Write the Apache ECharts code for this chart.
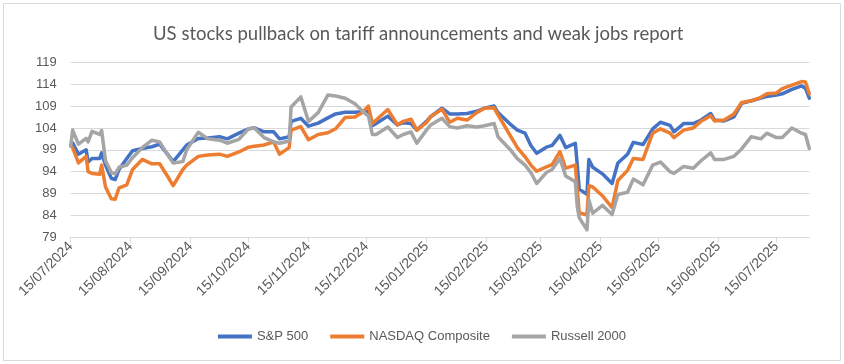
<!DOCTYPE html>
<html><head><meta charset="utf-8">
<script src="https://cdn.jsdelivr.net/npm/echarts@6/dist/echarts.min.js"></script>
<style>html,body{margin:0;padding:0;background:#fff}#c{width:844px;height:364px}</style>
</head><body><div id="c"></div><script>
const dates = ['2024-07-15','2024-07-16','2024-07-19','2024-07-23','2024-07-24','2024-07-26','2024-07-30','2024-07-31','2024-08-02','2024-08-05','2024-08-07','2024-08-09','2024-08-13','2024-08-16','2024-08-21','2024-08-26','2024-08-30','2024-09-03','2024-09-06','2024-09-11','2024-09-13','2024-09-19','2024-09-24','2024-09-30','2024-10-04','2024-10-10','2024-10-15','2024-10-18','2024-10-23','2024-10-28','2024-10-31','2024-11-05','2024-11-06','2024-11-11','2024-11-15','2024-11-20','2024-11-25','2024-11-29','2024-12-04','2024-12-09','2024-12-13','2024-12-16','2024-12-18','2024-12-20','2024-12-26','2024-12-31','2025-01-03','2025-01-07','2025-01-10','2025-01-15','2025-01-17','2025-01-23','2025-01-27','2025-01-31','2025-02-05','2025-02-10','2025-02-14','2025-02-19','2025-02-21','2025-02-27','2025-03-03','2025-03-07','2025-03-10','2025-03-13','2025-03-18','2025-03-21','2025-03-25','2025-03-28','2025-04-02','2025-04-03','2025-04-04','2025-04-08','2025-04-09','2025-04-11','2025-04-16','2025-04-21','2025-04-24','2025-04-29','2025-05-02','2025-05-07','2025-05-12','2025-05-16','2025-05-21','2025-05-23','2025-05-28','2025-06-02','2025-06-06','2025-06-11','2025-06-13','2025-06-18','2025-06-23','2025-06-27','2025-07-02','2025-07-07','2025-07-10','2025-07-15','2025-07-18','2025-07-23','2025-07-28','2025-07-30','2025-08-01'];
const sp500 = [100,100.6,98,99,96.2,97,97,98.3,95.5,92.5,92.2,94.5,97,98.8,99.3,99.7,100.3,98,96.3,99,100.1,101.6,101.7,102,101.5,102.8,103.8,104,103.1,103.1,101.5,102,105.5,106.2,104.4,105.1,106.3,107.2,107.6,107.6,107.7,108,104.5,105,106.7,104.7,105.2,105,103.5,105.5,106.5,108.5,107.2,107.2,107.3,107.8,108.5,109,107.5,105,103.5,102.8,100,98.2,99.6,100,102.3,99.5,100.5,95.5,90,88.8,96.8,95,93.5,91.3,96,98,100.7,100.2,103.8,105.3,104.6,103.1,105,105,105.8,107.3,105.8,105.6,106.5,109.6,110.2,110.8,111.2,111.5,111.8,112.8,113.6,113.1,110.8];
const nasdaq = [100,99.5,96,97.5,94,93.6,93.4,95.5,90.5,87.8,87.7,90.3,91,94.5,96.8,95.8,95.8,93,90.8,94.5,95.5,97.5,97.8,98,97.5,98.5,99.6,99.8,100.1,100.8,98,99.5,103.5,104.3,101.3,102.5,102.9,103.8,106.4,106.5,107.6,109,105,105.8,108.2,104.7,105.5,106,103.5,105.2,106.5,108.3,105.3,106.2,105.8,107.5,108.5,108.6,107,102.5,99.5,97.4,95.5,94.1,95.1,95.6,98.6,94.8,95.5,90,84.6,84.1,90.8,90.5,88.5,85.8,92,94.3,97,96.8,102.8,103.8,102.8,101.8,103.5,104,105.5,106.8,105.6,105.8,107.2,109.8,110.2,111,111.8,112,113,113.8,114.6,114.5,111.8];
const russell = [99.8,103.5,100.3,101.6,100.8,103.2,102.5,103.4,96.5,93.8,93.5,95,95.5,97.2,99.5,101.2,100.8,98,96,96.3,99,103,101.5,101.2,100.5,101.4,103.8,104,101.8,100.8,100.5,101,108.8,111.1,105.5,107.5,111.5,111.3,110.8,109.5,107.8,106.7,102.5,102.5,104.2,101.8,102.5,103.1,100.5,103.5,104.6,106.2,104.3,104,104.5,104.2,104.5,105,102,99.2,97,95.5,93.8,91.3,93.8,94.5,97,93,91.7,86,83.5,80.7,87.5,84.5,86.3,84.2,88.8,89.3,92.3,91,95.5,96.2,94,93.6,95.2,94.8,96.5,98.3,96.8,96.8,97.5,99.2,102,101.5,102.8,101.8,101.8,104,102.8,102.5,99.3];
const seriesNames = ['S&P 500','NASDAQ Composite','Russell 2000'];
const xTickDates = ['2024-07-15','2024-08-15','2024-09-15','2024-10-15','2024-11-15','2024-12-15','2025-01-15','2025-02-15','2025-03-15','2025-04-15','2025-05-15','2025-06-15','2025-07-15'];
const yTicks = [79,84,89,94,99,104,109,114,119];
const title = 'US stocks pullback on tariff announcements and weak jobs report';

function ts(s){const p=s.split('-').map(Number);return Date.UTC(p[0],p[1]-1,p[2]);}
function pad(n){return (n<10?'0':'')+n;}
function fmt(v){const d=new Date(v);return pad(d.getUTCDate())+'/'+pad(d.getUTCMonth()+1)+'/'+d.getUTCFullYear();}
const xTicks = xTickDates.map(ts);
const colors = ['#4472C4','#ED7D31','#A5A5A5'];
const vals = [sp500, nasdaq, russell];
const FONT = 'Liberation Sans';

const chart = echarts.init(document.getElementById('c'), null, {renderer:'canvas'});
chart.setOption({
  animation:false,
  backgroundColor:'#fff',
  color:colors,
  graphic:[{type:'rect',shape:{x:3.5,y:3.5,width:837,height:357},style:{fill:'none',stroke:'#d9d9d9',lineWidth:1},silent:true,z:-1}],
  title:{text:title,left:148,top:20,textStyle:{fontFamily:'Lato',fontSize:18.5,fontWeight:'normal',color:'#595959'}},
  legend:{bottom:16,left:'center',icon:'rect',itemWidth:34,itemHeight:4,itemGap:22,
    textStyle:{fontFamily:FONT,fontSize:13,color:'#595959'},data:seriesNames},
  grid:{left:70.7,right:34.7,top:62.3,bottom:126.7,outerBoundsMode:'none'},
  xAxis:{type:'value',min:ts(dates[0]),max:ts(dates[dates.length-1]),
    axisLine:{lineStyle:{color:'#d9d9d9',width:1}},
    axisTick:{show:true,customValues:xTicks,length:5,lineStyle:{color:'#d9d9d9'}},
    axisLabel:{customValues:xTicks,rotate:45,formatter:fmt,fontFamily:FONT,fontSize:14,color:'#595959',margin:7},
    splitLine:{show:false}},
  yAxis:{type:'value',min:79,max:119,
    axisLine:{show:false},
    axisTick:{show:false,customValues:yTicks},
    axisLabel:{customValues:yTicks,fontFamily:FONT,fontSize:13,color:'#595959',margin:14},
    splitLine:{show:true,lineStyle:{color:'#d9d9d9',width:1}}},
  series: vals.map((v,i)=>({name:seriesNames[i],type:'line',showSymbol:false,symbol:'none',
    lineStyle:{width:3.5,color:colors[i],cap:'round',join:'round'},itemStyle:{color:colors[i]},
    data:dates.map((d,j)=>[ts(d),v[j]])}))
});
</script></body></html>
